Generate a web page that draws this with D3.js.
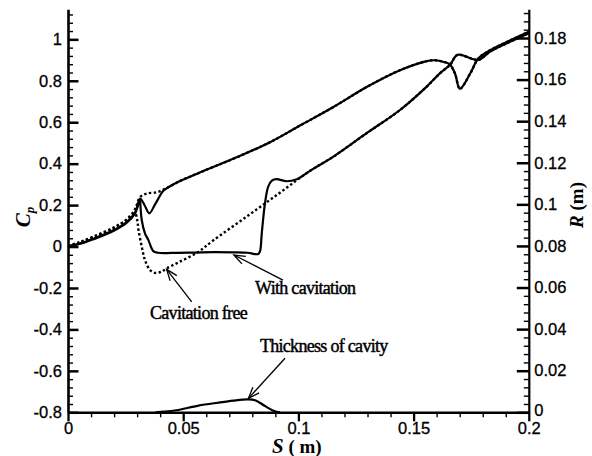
<!DOCTYPE html>
<html><head><meta charset="utf-8">
<script src="https://cdn.jsdelivr.net/npm/d3@7"></script>
<style>html,body{margin:0;padding:0;background:#fff;} svg{display:block;background:#fff;}</style>
</head><body><svg id="c" width="592" height="456"></svg>
<script>
// ---------- data ----------
// Cp with cavitation (solid)
const sCpCav = [0, 0.005, 0.011, 0.0197, 0.0255, 0.0291, 0.0313, 0.0314, 0.032, 0.0334, 0.0349, 0.037, 0.039, 0.045, 0.055, 0.063, 0.072, 0.078, 0.0826, 0.0834, 0.0841, 0.0855, 0.0869, 0.0885, 0.0905, 0.0949, 0.0993, 0.105, 0.1152, 0.1296, 0.1441, 0.1557, 0.1615, 0.1658, 0.1691, 0.1781, 0.1832, 0.1918, 0.2];
const cpCav  = [0, 0.012, 0.035, 0.075, 0.115, 0.16, 0.228, 0.205, 0.128, 0.064, 0.031, -0.022, -0.03, -0.031, -0.029, -0.027, -0.028, -0.03, -0.036, -0.02, 0.064, 0.209, 0.289, 0.318, 0.325, 0.315, 0.325, 0.365, 0.434, 0.547, 0.659, 0.772, 0.837, 0.877, 0.925, 0.901, 0.941, 0.988, 1.03];
// Cp cavitation free (dotted)
const sCpFree = [0, 0.005, 0.011, 0.0197, 0.0255, 0.0291, 0.0300, 0.0306, 0.032, 0.0334, 0.0356, 0.0378, 0.0405, 0.0428, 0.048, 0.056, 0.0631, 0.0776, 0.092, 0.105, 0.1152, 0.1296, 0.1441, 0.1557, 0.1615, 0.1658, 0.1691, 0.1781, 0.1832, 0.1918, 0.2];
const cpFree  = [0, 0.018, 0.045, 0.088, 0.128, 0.16, 0.13, 0.08, 0.0, -0.065, -0.113, -0.127, -0.122, -0.106, -0.076, -0.03, 0.03, 0.145, 0.26, 0.365, 0.434, 0.547, 0.659, 0.772, 0.837, 0.877, 0.925, 0.901, 0.941, 0.988, 1.03];
// R (m) with cavitation (solid)
const sRCav = [0, 0.005, 0.011, 0.0197, 0.0255, 0.0291, 0.0313, 0.0334, 0.0353, 0.0378, 0.0414, 0.0443, 0.0486, 0.0587, 0.0732, 0.0877, 0.1007, 0.1152, 0.1296, 0.1441, 0.1557, 0.1593, 0.1628, 0.1658, 0.168, 0.1701, 0.1745, 0.1781, 0.1832, 0.1918, 0.2];
const rCav  = [0.08, 0.0812, 0.0835, 0.0875, 0.0915, 0.096, 0.1028, 0.0992, 0.0957, 0.1, 0.1065, 0.1087, 0.1112, 0.116, 0.1226, 0.1299, 0.1379, 0.1468, 0.1564, 0.1645, 0.1689, 0.1693, 0.1686, 0.1672, 0.1628, 0.1556, 0.1628, 0.1701, 0.1741, 0.1788, 0.183];
// R (m) cavitation free (dotted)
const sRFree = [0, 0.005, 0.011, 0.0197, 0.0255, 0.029, 0.0313, 0.0342, 0.0385, 0.0414, 0.0443, 0.0486, 0.0587, 0.0732, 0.0877, 0.1007, 0.1152, 0.1296, 0.1441, 0.1557, 0.1593, 0.1628, 0.1658, 0.168, 0.1701, 0.1745, 0.1781, 0.1832, 0.1918, 0.2];
const rFree  = [0.08, 0.0818, 0.0845, 0.0888, 0.0928, 0.0975, 0.1035, 0.1052, 0.1058, 0.1071, 0.1087, 0.1112, 0.116, 0.1226, 0.1299, 0.1379, 0.1468, 0.1564, 0.1645, 0.1689, 0.1693, 0.1686, 0.1672, 0.1628, 0.1556, 0.1628, 0.1701, 0.1741, 0.1788, 0.183];
// Thickness of cavity (R axis)
const sThick = [0.038, 0.042, 0.047, 0.0566, 0.065, 0.0717, 0.0779, 0.0812, 0.0855, 0.0895, 0.092];
const thick  = [0, 0.0003, 0.001, 0.0032, 0.0046, 0.0056, 0.0062, 0.0058, 0.0030, 0.0006, 0];

// ticks
const sTicks = [0, 0.05, 0.1, 0.15, 0.2];
const sTickLabels = ["0", "0.05", "0.1", "0.15", "0.2"];
const cpTicks = [-0.8, -0.6, -0.4, -0.2, 0, 0.2, 0.4, 0.6, 0.8, 1];
const cpTickLabels = ["-0.8", "-0.6", "-0.4", "-0.2", "0", "0.2", "0.4", "0.6", "0.8", "1"];
const rTicks = [0, 0.02, 0.04, 0.06, 0.08, 0.1, 0.12, 0.14, 0.16, 0.18];
const rTickLabels = ["0", "0.02", "0.04", "0.06", "0.08", "0.1", "0.12", "0.14", "0.16", "0.18"];

// annotations (data coordinates)
const annoLabels = ["With cavitation", "Cavitation free", "Thickness of cavity"];
const annoAxis   = ["cp", "cp", "r"];
const annoTextS  = [0.0812, 0.0356, 0.0833];
const annoTextV  = [-0.229, -0.348, 0.0292];
const annoTailS  = [0.0933, 0.0537, 0.0942];
const annoTailV  = [-0.162, -0.267, 0.026];
const annoTipS   = [0.072, 0.0428, 0.0783];
const annoTipV   = [-0.041, -0.110, 0.0067];

// ---------- drawing ----------
const svg = d3.select("#c");
const x = d3.scaleLinear().domain([0, 0.2]).range([68, 528.8]);
const yCp = d3.scaleLinear().domain([-0.8, 1.145]).range([412.3, 9.3]);
const yR = d3.scaleLinear().domain([0, 0.1938]).range([412.3, 9.3]);

const tickFont = "'Liberation Sans', Arial, sans-serif";
const serif = "'Liberation Serif', 'Times New Roman', serif";

function styleAxis(g, w) {
  g.selectAll(".domain").attr("stroke", "#000").attr("stroke-width", w);
  g.selectAll(".tick line").attr("stroke", "#000");
  g.selectAll(".tick text").attr("fill", "#000").attr("stroke", "#000").attr("stroke-width", 0.3)
    .style("font-family", tickFont).style("font-size", "16.5px");
}
function minorVals(lo, hi, step, majors) {
  return d3.range(Math.round((hi - lo) / step) + 1).map(i => +(lo + i * step).toFixed(4))
    .filter(v => !majors.some(m => Math.abs(m - v) < step / 4));
}

// left axis
const gL = svg.append("g").attr("transform", "translate(68,0)");
gL.call(d3.axisLeft(yCp).tickValues(minorVals(-0.8, 1.12, 0.04, cpTicks)).tickSize(-5).tickFormat("").tickSizeOuter(0));
gL.selectAll(".tick line").attr("stroke-width", 1.4);
gL.call(g => g.select(".domain").remove());
const gL2 = svg.append("g").attr("transform", "translate(68,0)");
gL2.call(d3.axisLeft(yCp).tickValues(cpTicks).tickSize(-10.5).tickPadding(6).tickSizeOuter(0).tickFormat((d, i) => cpTickLabels[i]));
styleAxis(gL2, 2.6);
gL2.selectAll(".tick line").attr("stroke-width", 2.5);

// right axis
const gR = svg.append("g").attr("transform", "translate(528.8,0)");
gR.call(d3.axisRight(yR).tickValues(minorVals(0, 0.192, 0.004, rTicks)).tickSize(-5).tickFormat("").tickSizeOuter(0));
gR.selectAll(".tick line").attr("stroke-width", 1.4);
gR.call(g => g.select(".domain").remove());
const gR2 = svg.append("g").attr("transform", "translate(528.8,0)");
gR2.call(d3.axisRight(yR).tickValues(rTicks).tickSize(-12).tickPadding(5.5).tickSizeOuter(0).tickFormat((d, i) => rTickLabels[i]));
styleAxis(gR2, 2.2);
gR2.selectAll(".tick line").attr("stroke-width", 2.5);
gR2.selectAll(".tick text").filter(d => d === 0).attr("y", -2.5);

// bottom axis
const gB = svg.append("g").attr("transform", "translate(0,412.3)");
gB.call(d3.axisBottom(x).tickValues(minorVals(0, 0.2, 0.01, sTicks)).tickSize(5).tickFormat("").tickSizeOuter(0));
gB.selectAll(".tick line").attr("stroke-width", 1.4);
gB.call(g => g.select(".domain").remove());
const gB2 = svg.append("g").attr("transform", "translate(0,412.3)");
gB2.call(d3.axisBottom(x).tickValues(sTicks).tickSize(9).tickPadding(0.5).tickSizeOuter(0).tickFormat((d, i) => sTickLabels[i]));
styleAxis(gB2, 2.4);
gB2.selectAll(".tick line").attr("stroke-width", 2.3);

// curves
const clip = svg.append("g");
function drawLine(sArr, vArr, yScale, dashed) {
  const pts = sArr.map((s, i) => [x(s), yScale(vArr[i])]);
  clip.append("path")
    .attr("d", d3.line().curve(d3.curveCatmullRom.alpha(0.5))(pts))
    .attr("fill", "none").attr("stroke", "#000")
    .attr("stroke-width", dashed ? 2.4 : 2.2)
    .attr("stroke-linejoin", "round")
    .attr("stroke-dasharray", dashed ? "2.4,2.4" : null);
}
drawLine(sRFree, rFree, yR, true);
drawLine(sCpFree, cpFree, yCp, true);
drawLine(sRCav, rCav, yR, false);
drawLine(sCpCav, cpCav, yCp, false);
drawLine(sThick, thick, yR, false);

// annotations
annoLabels.forEach((lab, i) => {
  const ys = annoAxis[i] === "cp" ? yCp : yR;
  const tx = x(annoTipS[i]), ty = ys(annoTipV[i]);
  const ax = x(annoTailS[i]), ay = ys(annoTailV[i]);
  svg.append("line").attr("x1", ax).attr("y1", ay).attr("x2", tx).attr("y2", ty)
    .attr("stroke", "#000").attr("stroke-width", 1.3);
  const ang = Math.atan2(ay - ty, ax - tx);
  const L = 12, a = 0.36;
  const p1 = [tx + L * Math.cos(ang + a), ty + L * Math.sin(ang + a)];
  const p2 = [tx + L * Math.cos(ang - a), ty + L * Math.sin(ang - a)];
  svg.append("path").attr("d", `M${p1}L${tx},${ty}L${p2}`)
    .attr("fill", "none").attr("stroke", "#000").attr("stroke-width", 1.3);
  svg.append("text").attr("x", x(annoTextS[i])).attr("y", ys(annoTextV[i]))
    .style("font-family", serif).style("font-size", "18px").style("letter-spacing", "-0.7px")
    .attr("fill", "#000").attr("stroke", "#000").attr("stroke-width", 0.45).text(lab);
});

// axis titles
const tCp = svg.append("text").attr("transform", "translate(30,217) rotate(-90)")
  .attr("text-anchor", "middle").style("font-family", serif).style("font-weight", "bold")
  .style("font-style", "italic").style("font-size", "21px").attr("fill", "#000");
tCp.append("tspan").text("C");
tCp.append("tspan").attr("dy", 4).style("font-size", "13px").text("p");

const tR = svg.append("text").attr("transform", "translate(583,205) rotate(-90)")
  .attr("text-anchor", "middle").style("font-family", serif).style("font-weight", "bold")
  .style("font-size", "19px").attr("fill", "#000");
tR.append("tspan").style("font-style", "italic").text("R");
tR.append("tspan").text(" (m)");

const tS = svg.append("text").attr("x", 272).attr("y", 452.5)
  .style("font-family", serif).style("font-weight", "bold").style("font-size", "19px").attr("fill", "#000");
tS.append("tspan").style("font-style", "italic").style("font-size", "21px").text("S");
tS.append("tspan").text(" ( m)");
</script></body></html>
